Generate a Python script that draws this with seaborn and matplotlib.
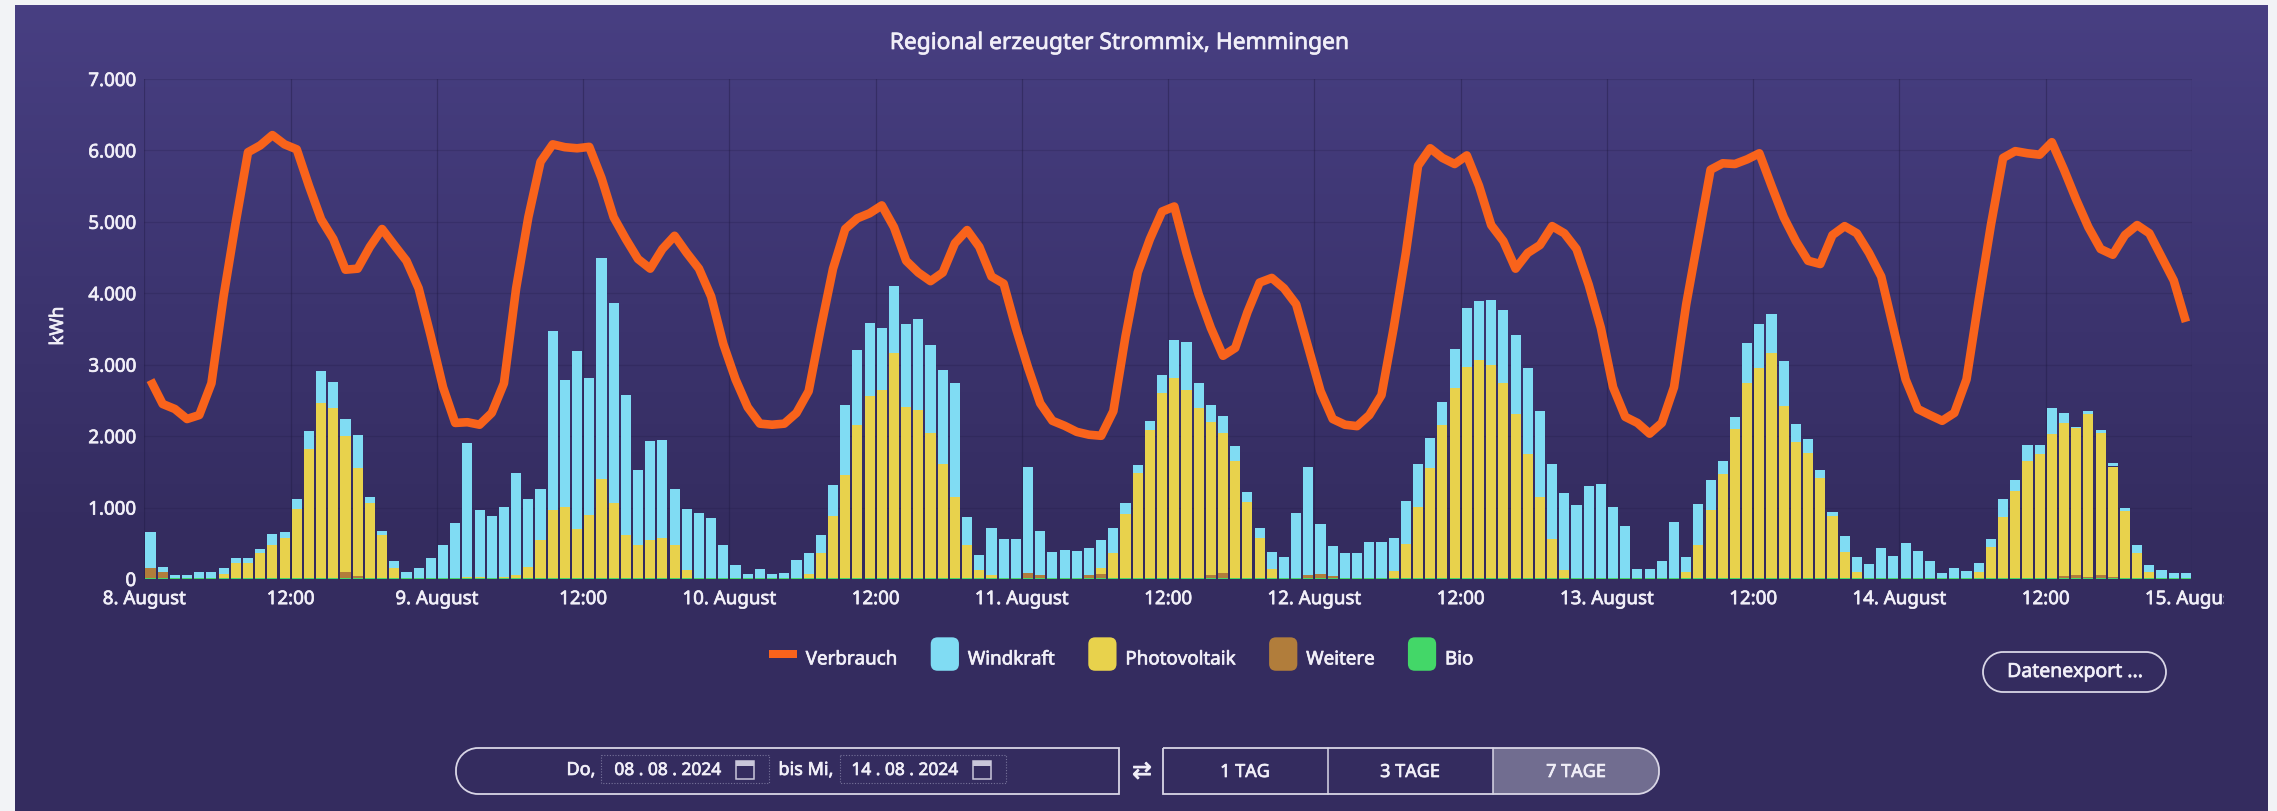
import numpy as np
import pandas as pd
import matplotlib
matplotlib.use("Agg")
import matplotlib.pyplot as plt
import matplotlib.patheffects as pe
from matplotlib.colors import LinearSegmentedColormap
from matplotlib.legend_handler import HandlerPatch
from matplotlib.patches import FancyBboxPatch, Patch, PathPatch, Rectangle
from matplotlib.path import Path
from matplotlib.text import Text
from matplotlib.transforms import Bbox
import seaborn as sns

# Stundenwerte 8.-14. August, je Zeile ein Tag
verbrauch = [
    2785, 2450, 2380, 2240, 2295, 2740, 3960, 5000, 5975, 6070, 6215, 6085, 6015, 5505, 5035, 4760, 4330, 4345, 4650, 4900, 4675, 4455, 4070, 3400,
    2685, 2185, 2195, 2160, 2325, 2740, 4070, 5065, 5840, 6085, 6045, 6030, 6050, 5615, 5065, 4760, 4480, 4345, 4620, 4805, 4565, 4345, 3955, 3290,
    2795, 2405, 2175, 2160, 2175, 2325, 2630, 3515, 4345, 4900, 5050, 5120, 5230, 4925, 4455, 4290, 4170, 4290, 4700, 4885, 4650, 4235, 4135, 3515,
    2960, 2460, 2215, 2145, 2060, 2020, 2005, 2350, 3400, 4290, 4760, 5145, 5215, 4565, 3985, 3515, 3125, 3235, 3735, 4150, 4215, 4070, 3845, 3235,
    2630, 2240, 2160, 2140, 2295, 2575, 3515, 4565, 5785, 6030, 5895, 5810, 5930, 5505, 4955, 4730, 4345, 4565, 4675, 4940, 4840, 4620, 4120, 3515,
    2685, 2270, 2185, 2035, 2185, 2685, 3845, 4785, 5730, 5820, 5810, 5875, 5960, 5505, 5065, 4730, 4455, 4410, 4815, 4940, 4840, 4565, 4235, 3515,
    2795, 2380, 2295, 2215, 2325, 2795, 3900, 4955, 5895, 5990, 5960, 5940, 6115, 5730, 5310, 4925, 4620, 4540, 4815, 4955, 4840, 4510, 4180, 3600,
]
windkraft = [
    505, 65, 40, 40, 80, 80, 80, 80, 80, 55, 155, 80, 140, 250, 455, 365, 240, 460, 85, 55, 100, 85, 140, 280,
    465, 775, 1875, 945, 865, 980, 1430, 955, 715, 2500, 1780, 2490, 1925, 3100, 2800, 1960, 1050, 1380, 1380, 785, 860, 915, 845, 455,
    180, 55, 125, 55, 70, 245, 290, 260, 425, 985, 1050, 1035, 870, 935, 1165, 1265, 1225, 1315, 1595, 400, 220, 670, 540, 540,
    1485, 615, 360, 390, 380, 380, 395, 355, 155, 110, 125, 240, 530, 680, 360, 240, 235, 220, 135, 145, 235, 290, 910, 1520,
    700, 420, 345, 345, 500, 500, 460, 610, 595, 425, 320, 545, 830, 820, 910, 1010, 1110, 1205, 1205, 1060, 1080, 1020, 1285, 1315,
    995, 720, 125, 125, 235, 785, 210, 580, 415, 180, 160, 555, 610, 545, 630, 250, 205, 110, 55, 220, 205, 195, 415, 310,
    490, 370, 235, 70, 135, 95, 125, 110, 250, 145, 220, 125, 365, 135, 10, 40, 35, 45, 35, 100, 100, 105, 70, 70,
]
photovoltaik = [
    0, 0, 0, 0, 0, 0, 55, 205, 205, 345, 455, 565, 965, 1810, 2445, 2380, 1905, 1520, 1045, 595, 135, 0, 0, 0,
    0, 0, 10, 10, 5, 15, 35, 150, 525, 955, 990, 685, 880, 1385, 1045, 595, 455, 535, 555, 465, 110, 0, 0, 0,
    0, 0, 0, 0, 0, 0, 55, 345, 870, 1435, 2145, 2540, 2630, 3155, 2390, 2355, 2035, 1600, 1130, 455, 105, 35, 0, 0,
    0, 0, 0, 0, 0, 0, 85, 345, 900, 1465, 2070, 2595, 2805, 2625, 2375, 2145, 1970, 1630, 1065, 555, 125, 0, 0, 0,
    0, 0, 0, 0, 0, 0, 95, 470, 995, 1535, 2145, 2665, 2955, 3055, 2975, 2735, 2295, 1740, 1130, 540, 110, 0, 0, 0,
    0, 0, 0, 0, 0, 0, 80, 455, 955, 1450, 2090, 2735, 2945, 3150, 2410, 1905, 1745, 1405, 865, 365, 85, 0, 0, 0,
    0, 0, 0, 0, 0, 0, 80, 435, 860, 1220, 1635, 1730, 2015, 2140, 2070, 2275, 1995, 1545, 940, 355, 80, 0, 0, 0,
]
weitere = [
    140, 85, 0, 0, 0, 0, 0, 0, 0, 0, 0, 0, 0, 0, 0, 0, 80, 25, 0, 0, 0, 0, 0, 0,
    0, 0, 0, 0, 0, 0, 0, 0, 0, 0, 0, 0, 0, 0, 0, 0, 0, 0, 0, 0, 0, 0, 0, 0,
    0, 0, 0, 0, 0, 0, 0, 0, 0, 0, 0, 0, 0, 0, 0, 0, 0, 0, 0, 0, 0, 0, 0, 0,
    65, 35, 0, 0, 0, 35, 55, 0, 0, 0, 0, 0, 0, 0, 0, 40, 65, 0, 0, 0, 0, 0, 0, 35,
    55, 25, 0, 0, 0, 0, 0, 0, 0, 0, 0, 0, 0, 0, 0, 0, 0, 0, 0, 0, 0, 0, 0, 0,
    0, 0, 0, 0, 0, 0, 0, 0, 0, 0, 0, 0, 0, 0, 0, 0, 0, 0, 0, 0, 0, 0, 0, 0,
    0, 0, 0, 0, 0, 0, 0, 0, 0, 0, 0, 0, 0, 30, 35, 20, 40, 15, 0, 0, 0, 0, 0, 0,
]
bio = [
    15, 15, 15, 15, 15, 15, 15, 15, 15, 15, 15, 15, 15, 15, 15, 15, 15, 15, 15, 15, 15, 15, 15, 15,
    15, 15, 15, 15, 15, 15, 15, 15, 15, 15, 15, 15, 15, 15, 15, 15, 15, 15, 15, 15, 15, 15, 15, 15,
    15, 15, 15, 15, 15, 15, 15, 15, 15, 15, 15, 15, 15, 15, 15, 15, 15, 15, 15, 15, 15, 15, 15, 15,
    15, 15, 15, 15, 15, 15, 15, 15, 15, 15, 15, 15, 15, 15, 15, 15, 15, 15, 15, 15, 15, 15, 15, 15,
    15, 15, 15, 15, 15, 15, 15, 15, 15, 15, 15, 15, 15, 15, 15, 15, 15, 15, 15, 15, 15, 15, 15, 15,
    15, 15, 15, 15, 15, 15, 15, 15, 15, 15, 15, 15, 15, 15, 15, 15, 15, 15, 15, 15, 15, 15, 15, 15,
    15, 15, 15, 15, 15, 15, 15, 15, 15, 15, 15, 15, 15, 15, 15, 15, 15, 15, 15, 15, 15, 15, 15, 15,
]
x_labels = ["8. August", "12:00", "9. August", "12:00", "10. August", "12:00", "11. August", "12:00",
            "12. August", "12:00", "13. August", "12:00", "14. August", "12:00", "15. August"]
y_ticks = [0, 1000, 2000, 3000, 4000, 5000, 6000, 7000]
y_labels = ["0", "1.000", "2.000", "3.000", "4.000", "5.000", "6.000", "7.000"]
legend_names = ["Verbrauch", "Windkraft", "Photovoltaik", "Weitere", "Bio"]

W, H = 2277, 811
C_LINE = "#f9631b"
C_WIND = "#80dcf3"
C_PV = "#e8d24c"
C_WEITERE = "#b17d3b"
C_BIO = "#43d768"
C_TEXT = "#f1eff8"
C_LINEBOX = "#d9d6e6"

sns.set_theme(style="white")
plt.rcParams["font.family"] = ["Noto Sans", "DejaVu Sans"]

fig = plt.figure(figsize=(W / 100, H / 100), dpi=100, facecolor="#f2f3f6")

# Hintergrund mit Verlauf und Zeichenebene in Pixeln
bg = fig.add_axes([0, 0, 1, 1], zorder=0)
bg.axis("off")
verlauf = LinearSegmentedColormap.from_list("v", ["#483f82", "#3d3571", "#342c5f", "#342c5f"])
bg.imshow(np.linspace(0, 1, 256).reshape(-1, 1), cmap=verlauf, aspect="auto", extent=(15, 2268, 811, 5))
bg.set_xlim(0, W)
bg.set_ylim(H, 0)

ax = fig.add_axes([144.4 / W, 1 - 579 / H, (2192 - 144.4) / W, 500 / H], zorder=1)
ax.patch.set_alpha(0)

stunden = np.arange(168) + 0.5
teile = []
for name, werte in [("Windkraft", windkraft), ("Photovoltaik", photovoltaik), ("Weitere", weitere), ("Bio", bio)]:
    teile.append(pd.DataFrame({"stunde": stunden, "kwh": werte, "art": name}))
df = pd.concat(teile, ignore_index=True)

sns.histplot(
    data=df, x="stunde", weights="kwh", hue="art", multiple="stack",
    hue_order=["Windkraft", "Photovoltaik", "Weitere", "Bio"],
    palette={"Windkraft": C_WIND, "Photovoltaik": C_PV, "Weitere": C_WEITERE, "Bio": C_BIO},
    bins=168, binrange=(0, 168), shrink=0.83, alpha=1, linewidth=0, legend=False, ax=ax,
)
sns.lineplot(x=stunden, y=verbrauch, color=C_LINE, linewidth=6.2, ax=ax, zorder=5,
             solid_joinstyle="round", solid_capstyle="butt")

ax.set_xlim(0, 168)
ax.set_ylim(0, 7000)
ax.set_xticks(np.arange(0, 169, 12))
ax.set_xticklabels(x_labels)
ax.set_yticks(y_ticks)
ax.set_yticklabels(y_labels)
ax.tick_params(axis="both", length=0, labelcolor=C_TEXT, labelsize=13.5)
ax.tick_params(axis="x", pad=8)
ax.tick_params(axis="y", pad=6)
ax.set_xlabel("")
ax.set_ylabel("")
ax.grid(True, axis="y", color="#1f1a42", alpha=0.22, linewidth=0.9)
ax.grid(True, axis="x", color="#1f1a42", alpha=0.4, linewidth=0.9)
ax.set_axisbelow(True)
for s in ax.spines.values():
    s.set_visible(False)
# letzter Tick wird am Rand abgeschnitten
for lab in ax.get_xticklabels():
    lab.set_clip_on(True)
    lab.set_clip_box(Bbox([[0, 0], [2224, H]]))

bg.text(1119, 43, "Regional erzeugter Strommix, Hemmingen", color=C_TEXT, fontsize=16.4, ha="center", va="center")
bg.text(58, 326, "kWh", color=C_TEXT, fontsize=13.5, rotation=90, ha="center", va="center")


class RundHandler(HandlerPatch):
    def create_artists(self, legend, orig, xd, yd, width, height, fontsize, trans):
        p = FancyBboxPatch((xd + 3, yd - 6), width - 6, height + 12, boxstyle="round,pad=0,rounding_size=5",
                           facecolor=orig.get_facecolor(), edgecolor="none", transform=trans)
        return [p]


class StrichHandler(HandlerPatch):
    def create_artists(self, legend, orig, xd, yd, width, height, fontsize, trans):
        p = Rectangle((xd + 3, yd + height / 2 - 2.6), width - 6, 5.2, facecolor=orig.get_facecolor(),
                      edgecolor="none", transform=trans)
        return [p]


handles = [Patch(facecolor=c) for c in [C_LINE, C_WIND, C_PV, C_WEITERE, C_BIO]]
handler_map = {h: RundHandler() for h in handles[1:]}
handler_map[handles[0]] = StrichHandler()
leg = fig.legend(handles, legend_names, loc="center", bbox_to_anchor=(1119 / W, 1 - 659 / H), ncol=5, frameon=False,
                 fontsize=13.5, labelcolor=C_TEXT, handlelength=1.95, handleheight=1, handletextpad=0.25, columnspacing=1.55,
                 handler_map=handler_map)
leg.set_zorder(3)


def box(x0, y0, x1, y1, r_links=0, r_rechts=0, fc="none", ec=C_LINEBOX, lw=1.3, ls="-"):
    k = 0.55
    v = [(x0 + r_links, y0), (x1 - r_rechts, y0)]
    c = [Path.MOVETO, Path.LINETO]
    if r_rechts:
        v += [(x1 - r_rechts * (1 - k), y0), (x1, y0 + r_rechts * (1 - k)), (x1, y0 + r_rechts),
              (x1, y1 - r_rechts), (x1, y1 - r_rechts * (1 - k)), (x1 - r_rechts * (1 - k), y1), (x1 - r_rechts, y1)]
        c += [Path.CURVE4] * 3 + [Path.LINETO] + [Path.CURVE4] * 3
    else:
        v += [(x1, y1)]
        c += [Path.LINETO]
    v += [(x0 + r_links, y1)]
    c += [Path.LINETO]
    if r_links:
        v += [(x0 + r_links * (1 - k), y1), (x0, y1 - r_links * (1 - k)), (x0, y1 - r_links),
              (x0, y0 + r_links), (x0, y0 + r_links * (1 - k)), (x0 + r_links * (1 - k), y0), (x0 + r_links, y0)]
        c += [Path.CURVE4] * 3 + [Path.LINETO] + [Path.CURVE4] * 3
    else:
        v += [(x0, y0), (x0 + r_links, y0)]
        c += [Path.LINETO, Path.LINETO]
    bg.add_patch(PathPatch(Path(v, c), facecolor=fc, edgecolor=ec, linewidth=lw, linestyle=ls))


def kalender(x, y):
    bg.add_patch(Rectangle((x, y + 2), 18, 18, facecolor="none", edgecolor="#c9c6da", linewidth=1.1))
    bg.add_patch(Rectangle((x, y + 2), 18, 5, facecolor="#c9c6da", edgecolor="none"))


# Datumsauswahl
box(456, 748, 1119, 794, r_links=22)
bg.text(581, 770, "Do,", color=C_TEXT, fontsize=13, ha="center", va="center")
box(601, 755, 769, 783, ec="#77739a", lw=0.8, ls=(0, (1, 1.5)))
bg.text(668, 770, "08 . 08 . 2024", color=C_TEXT, fontsize=12.5, ha="center", va="center")
kalender(736, 759)
bg.text(806, 770, "bis Mi,", color=C_TEXT, fontsize=13, ha="center", va="center")
box(840, 755, 1006, 783, ec="#77739a", lw=0.8, ls=(0, (1, 1.5)))
bg.text(905, 770, "14 . 08 . 2024", color=C_TEXT, fontsize=12.5, ha="center", va="center")
kalender(973, 759)
bg.text(1142, 771, "⇄", color=C_TEXT, fontsize=17, ha="center", va="center", family=["DejaVu Sans"])

# Zeitraum-Schalter
box(1493, 748, 1659, 794, r_rechts=22, fc="#716d90", ec="none")
box(1163, 748, 1659, 794, r_rechts=22)
bg.plot([1328, 1328], [748, 794], color=C_LINEBOX, linewidth=1.1)
bg.plot([1493, 1493], [748, 794], color=C_LINEBOX, linewidth=1.1)
bg.text(1245, 772, "1 TAG", color=C_TEXT, fontsize=13, ha="center", va="center")
bg.text(1410, 772, "3 TAGE", color=C_TEXT, fontsize=13, ha="center", va="center")
bg.text(1576, 772, "7 TAGE", color=C_TEXT, fontsize=13, ha="center", va="center")

# Export
box(1983, 652, 2166, 692, r_links=20, r_rechts=20)
bg.text(2075, 672, "Datenexport ...", color=C_TEXT, fontsize=14, ha="center", va="center")

# Schrift im Original wirkt kraeftiger
for t in fig.findobj(Text):
    t.set_path_effects([pe.withStroke(linewidth=0.5, foreground=C_TEXT)])

fig.savefig("out.png", dpi=100, facecolor=fig.get_facecolor())
